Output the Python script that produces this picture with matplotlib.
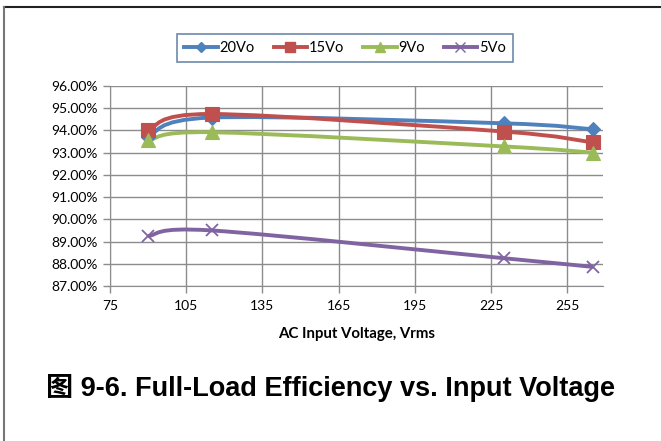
import numpy as np
import matplotlib.pyplot as plt
from matplotlib.path import Path
from matplotlib.patches import PathPatch
from matplotlib.lines import Line2D
from matplotlib.ticker import FuncFormatter

# input voltage (Vrms) and full-load efficiency (%) per output
vin = [90, 115, 230, 265]
eff_20v = [93.72, 94.58, 94.32, 94.05]
eff_15v = [94.02, 94.74, 93.95, 93.46]
eff_9v = [93.55, 93.92, 93.28, 93.00]
eff_5v = [89.25, 89.50, 88.25, 87.86]

labels = ["20Vo", "15Vo", "9Vo", "5Vo"]
colors = ["#4F81BD", "#C0504D", "#9BBB59", "#8064A2"]
markers = ["D", "s", "^", "x"]
msizes = [7, 9.5, 10, 9]

x_ticks = [75, 105, 135, 165, 195, 225, 255]
y_ticks = [87, 88, 89, 90, 91, 92, 93, 94, 95, 96]

plt.rcParams["font.family"] = ["Lato", "DejaVu Sans"]


def smooth_path(xs, ys):
    # Excel-style smoothed line: cubic bezier segments
    pts = np.column_stack([xs, ys]).astype(float)
    n = len(pts)
    verts = [pts[0]]
    codes = [Path.MOVETO]
    for i in range(n - 1):
        p0 = pts[i - 1] if i > 0 else pts[i]
        p1 = pts[i]
        p2 = pts[i + 1]
        p3 = pts[i + 2] if i + 2 < n else pts[i + 1]
        c1 = p1 + (p2 - p0) / 6.0
        c2 = p2 - (p3 - p1) / 6.0
        verts += [c1, c2, p2]
        codes += [Path.CURVE4] * 3
    return Path(verts, codes)


fig = plt.figure(figsize=(6.61, 4.41), dpi=100)
ax = fig.add_axes([110 / 661, 1 - 286 / 441, 493 / 661, 200 / 441])

series = [eff_20v, eff_15v, eff_9v, eff_5v]
handles = []
for ys, lab, c, m, ms in zip(series, labels, colors, markers, msizes):
    patch = PathPatch(smooth_path(vin, ys), facecolor="none", edgecolor=c,
                      lw=2.8, transform=ax.transData, zorder=3)
    ax.add_patch(patch)
    ax.plot(vin, ys, linestyle="none", marker=m, color=c, markersize=ms,
            markeredgewidth=1.3 if m == "x" else 0.8, zorder=4)
    handles.append(Line2D([], [], color=c, lw=2.8, marker=m,
                          markersize=ms * 0.75, markeredgewidth=1.0))

ax.set_xlim(75, 269)
ax.set_ylim(87, 96)
ax.set_xticks(x_ticks)
ax.set_yticks(y_ticks)
ax.yaxis.set_major_formatter(FuncFormatter(lambda v, p: f"{v:.2f}%"))
ax.grid(True, color="#8C8C8C", lw=1.0)
ax.set_axisbelow(True)
for side in ["top", "right"]:
    ax.spines[side].set_visible(False)
for side in ["left", "bottom"]:
    ax.spines[side].set_color("#8C8C8C")
ax.tick_params(axis="both", colors="#8C8C8C", labelcolor="black",
               labelsize=10, length=5, width=1.0)
ax.tick_params(axis="y", pad=4)
ax.tick_params(axis="x", pad=5)
ax.set_xlabel("AC Input Voltage, Vrms", fontsize=10.8, fontweight="bold",
              labelpad=11)

leg = fig.legend(handles, labels, loc="center",
                 bbox_to_anchor=(345 / 661, 1 - 48 / 441), ncol=4,
                 fontsize=10.5, frameon=True, fancybox=False,
                 handlelength=2.3, columnspacing=1.3, handletextpad=0.1,
                 borderpad=0.5)
leg.get_frame().set_edgecolor("#4A6C96")
leg.get_frame().set_linewidth(1.2)

fig.text(330 / 661, 1 - 388 / 441, "图 9-6. Full-Load Efficiency vs. Input Voltage",
         ha="center", va="center", fontsize=19.5, fontweight="bold",
         family=["Liberation Sans", "Noto Sans CJK SC"])

# page frame lines
fig.add_artist(Line2D([4 / 661, 1], [1 - 6.5 / 441, 1 - 6.5 / 441],
                      transform=fig.transFigure, color="#222222", lw=1.5))
fig.add_artist(Line2D([4 / 661, 4 / 661], [0, 1 - 6.5 / 441],
                      transform=fig.transFigure, color="#777777", lw=1.5))

fig.savefig("out.png", dpi=100)
